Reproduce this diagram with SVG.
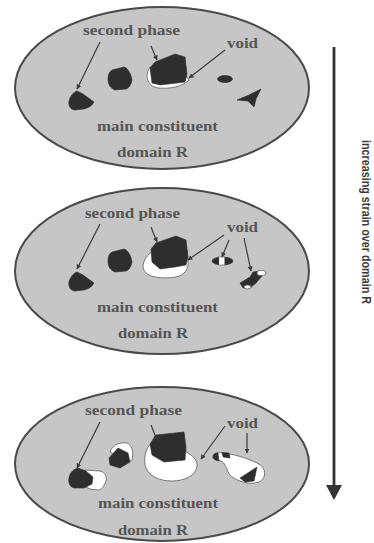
<svg xmlns="http://www.w3.org/2000/svg" width="374" height="543" viewBox="0 0 374 543">
  <style>
    .domain { fill: #c6c6c6; stroke: #4a4a4a; stroke-width: 2; }
    .phase { fill: #2e2e2e; stroke: #2e2e2e; stroke-width: 0.6; stroke-linejoin: round; }
    .void { fill: #ffffff; stroke: #6a6a6a; stroke-width: 0.9; stroke-linejoin: round; }
    .label { font-family: "Liberation Serif", "DejaVu Serif", serif; font-size: 15px; font-weight: bold; fill: #555555; }
    .lead { stroke: #3c3c3c; stroke-width: 1.2; fill: none; marker-end: url(#tip); }
    .axis { font-family: "Liberation Sans", Arial, sans-serif; font-size: 12px; font-weight: bold; fill: #3a3a3a; }
  </style>
  <defs>
    <marker id="tip" viewBox="0 0 10 10" refX="9" refY="5" markerWidth="5" markerHeight="5" orient="auto" markerUnits="userSpaceOnUse">
      <path d="M0,0 L10,5 L0,10 Z" fill="#3c3c3c"/>
    </marker>
  </defs>
  <rect width="374" height="543" fill="#ffffff"/>

  <!-- stage 1: before straining -->
  <g id="stage1">
    <ellipse class="domain" cx="162" cy="88" rx="147" ry="81"/>
    <path class="phase" d="M69,101 C70,96 74,92 77,91 L83,94 L94,102 C92,106 88,108 84,109 L75,110 C71,110 68,106 69,101 Z"/>
    <path class="phase" d="M112,70 L124,67 C128,68 131,74 132,80 C131,85 129,88 126,89 L115,90 C110,88 108,84 108,79 C108,75 109,72 112,70 Z"/>
    <path class="void" d="M150,67 C145,74 146,86 158,88 C170,89 182,87 189,80 L186,76 Z"/>
    <path class="phase" d="M150,68 L155,62 L175,54 L185,57 L187,74 L185,82 L160,85 L152,83 Z"/>
    <ellipse class="phase" cx="225" cy="79" rx="7.5" ry="3.5"/>
    <path class="phase" d="M237,100 L249,95 L261,89 L256,99 L254,107 L248,101 Z"/>
    <text class="label" x="83" y="35" textLength="97" lengthAdjust="spacingAndGlyphs">second phase</text>
    <text class="label" x="227" y="48" textLength="31" lengthAdjust="spacingAndGlyphs">void</text>
    <text class="label" x="97" y="131" textLength="121" lengthAdjust="spacingAndGlyphs">main constituent</text>
    <text class="label" x="117" y="157" textLength="71" lengthAdjust="spacingAndGlyphs">domain R</text>
  </g>

  <!-- stage 2: voids start to open -->
  <g id="stage2">
    <ellipse class="domain" cx="162" cy="271" rx="147" ry="83"/>
    <path class="phase" transform="translate(0,181)" d="M69,101 C70,96 74,92 77,91 L83,94 L94,102 C92,106 88,108 84,109 L75,110 C71,110 68,106 69,101 Z"/>
    <path class="phase" transform="translate(0,182)" d="M112,70 L124,67 C128,68 131,74 132,80 C131,85 129,88 126,89 L115,90 C110,88 108,84 108,79 C108,75 109,72 112,70 Z"/>
    <path class="void" d="M153,251 C145,256 140,266 145,272 C150,278 165,279 176,277 C185,275 189,269 188,260 L186,245 Z"/>
    <path class="phase" d="M151,249 L156,243 L176,236 L186,240 L188,257 L186,265 L175,267 L160,269 L152,262 Z"/>
    <ellipse class="phase" cx="222.5" cy="261" rx="10.5" ry="4"/>
    <path fill="#ffffff" d="M219,257.3 L224.5,257.2 L224.5,264.8 L219,264.7 Z"/>
    <path class="phase" d="M240,283 L250,277 L253,272 L260,271 L262,276 L256,283 L250,288 L243,288 Z"/>
    <ellipse class="void" cx="261.5" cy="273" rx="4.5" ry="2.6"/>
    <ellipse class="void" cx="247.5" cy="287" rx="3.5" ry="2"/>
    <text class="label" x="85" y="218" textLength="95" lengthAdjust="spacingAndGlyphs">second phase</text>
    <text class="label" x="227" y="232" textLength="31" lengthAdjust="spacingAndGlyphs">void</text>
    <text class="label" x="97" y="312" textLength="121" lengthAdjust="spacingAndGlyphs">main constituent</text>
    <text class="label" x="118" y="338" textLength="70" lengthAdjust="spacingAndGlyphs">domain R</text>
  </g>

  <!-- stage 3: voids grown around the particles -->
  <g id="stage3">
    <ellipse class="domain" cx="162" cy="464" rx="147" ry="77"/>
    <path class="void" d="M85,470 L100,471 C105,472 107,476 106,481 C104,486 102,490 98,490 L90,489 L84,486 Z"/>
    <path class="phase" d="M69,478 C70,472 74,469 78,468 L86,471 L93,477 L92,484 L84,488 L74,488 C70,487 68,483 69,478 Z"/>
    <path class="void" d="M110,452 C112,445 120,442 127,443 C132,445 134,452 132,460 L128,462 Z"/>
    <path class="phase" d="M109,458 L118,448 L128,453 L130,462 L120,468 L110,465 Z"/>
    <path class="void" d="M152,443 C145,448 143,460 146,468 C150,477 160,481 172,481 C184,481 195,476 197,467 C198,460 192,455 186,452 L185,445 Z"/>
    <path class="phase" d="M150,444 L156,435 L175,433 L184,432 L186,447 L185,460 L164,462 L152,455 Z"/>
    <path class="void" d="M213,457 C213,453 218,452 223,453 C232,454 245,457 257,463 C263,466 266,471 264,477 C262,482 256,484 248,483 C240,482 231,478 228,472 C226,467 225,463 221,461 C216,460 213,459 213,457 Z"/>
    <path class="phase" d="M213,457 C213,454 215,453 218,453 L219,461 C215,460 213,459 213,457 Z"/>
    <path class="phase" d="M222,452.5 L229,453 L230,458 L223,457 Z"/>
    <path class="phase" d="M240,478 L257,467 L254,481 L245,482 Z"/>
    <text class="label" x="85" y="415" textLength="97" lengthAdjust="spacingAndGlyphs">second phase</text>
    <text class="label" x="227" y="428" textLength="31" lengthAdjust="spacingAndGlyphs">void</text>
    <text class="label" x="98" y="508" textLength="120" lengthAdjust="spacingAndGlyphs">main constituent</text>
    <text class="label" x="118" y="535" textLength="70" lengthAdjust="spacingAndGlyphs">domain R</text>
  </g>

  <!-- strain axis -->
  <g id="strain-axis">
    <line x1="334" y1="47" x2="334" y2="487" stroke="#333333" stroke-width="2.8"/>
    <path d="M326,485 L342,485 L334,500 Z" fill="#333333"/>
    <text class="axis" transform="translate(362,140) rotate(90)" textLength="164" lengthAdjust="spacingAndGlyphs">increasing strain over domain R</text>
  </g>

  <!-- leader arrows -->
  <g id="connectors">
    <line class="lead" x1="100" y1="42" x2="77" y2="89"/>
    <line class="lead" x1="151" y1="46" x2="157" y2="60"/>
    <line class="lead" x1="225" y1="50" x2="189" y2="78"/>
    <line class="lead" x1="100" y1="224" x2="77" y2="269"/>
    <line class="lead" x1="151" y1="227" x2="157" y2="242"/>
    <line class="lead" x1="224" y1="235" x2="188" y2="260"/>
    <line class="lead" x1="229" y1="240" x2="222" y2="257"/>
    <line class="lead" x1="244" y1="238" x2="251" y2="271"/>
    <line class="lead" x1="100" y1="422" x2="77" y2="468"/>
    <line class="lead" x1="151" y1="425" x2="157" y2="440"/>
    <line class="lead" x1="225" y1="426" x2="201" y2="459"/>
    <line class="lead" x1="247" y1="433" x2="247" y2="453"/>
  </g>
</svg>
